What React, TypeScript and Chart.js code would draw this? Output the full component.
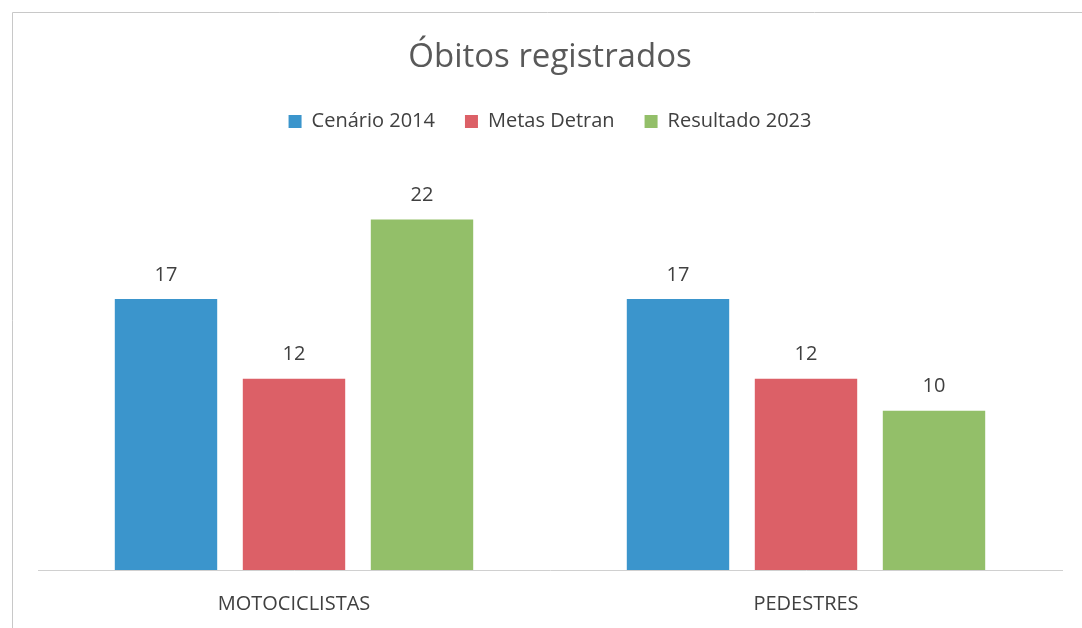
import React, { useEffect, useRef } from "react";
import { Chart, registerables } from "chart.js";

Chart.register(...registerables);

const categories = ["MOTOCICLISTAS", "PEDESTRES"];
const seriesNames = ["Cenário 2014", "Metas Detran", "Resultado 2023"];
const cenario2014 = [17, 17];
const metasDetran = [12, 12];
const resultado2023 = [22, 10];
const seriesColors = ["#3b95cc", "#dc6067", "#93bf69"];

const FONT = "'Open Sans', 'Noto Sans', sans-serif";

const valueLabels = {
  id: "valueLabels",
  afterDatasetsDraw(chart: any) {
    const ctx = chart.ctx;
    ctx.save();
    ctx.font = `20px ${FONT}`;
    ctx.fillStyle = "#404040";
    ctx.textAlign = "center";
    ctx.textBaseline = "bottom";
    chart.data.datasets.forEach((ds: any, i: number) => {
      const meta = chart.getDatasetMeta(i);
      meta.data.forEach((bar: any, j: number) => {
        ctx.fillText(String(ds.data[j]), bar.x, bar.y - 14);
      });
    });
    ctx.restore();
  },
};

const legendSpacer = {
  id: "legendSpacer",
  beforeInit(chart: any) {
    const legend = chart.legend;
    if (!legend) return;
    const orig = legend.fit;
    legend.fit = function () {
      orig.call(this);
      this.height += 30;
    };
  },
};

const frame = {
  id: "frame",
  beforeDraw(chart: any) {
    const ctx = chart.ctx;
    ctx.save();
    ctx.fillStyle = "#ffffff";
    ctx.fillRect(0, 0, chart.width, chart.height);
    ctx.strokeStyle = "#c8c8c8";
    ctx.lineWidth = 1;
    ctx.beginPath();
    ctx.moveTo(12.5, chart.height);
    ctx.lineTo(12.5, 12.5);
    ctx.lineTo(chart.width, 12.5);
    ctx.stroke();
    ctx.restore();
  },
};

export default function App() {
  const ref = useRef<HTMLCanvasElement>(null);
  useEffect(() => {
    if (!ref.current) return;
    const chart = new Chart(ref.current, {
      type: "bar",
      data: {
        labels: categories,
        datasets: [cenario2014, metasDetran, resultado2023].map((d, i) => ({
          label: seriesNames[i],
          data: d,
          backgroundColor: seriesColors[i],
          categoryPercentage: 0.75,
          barPercentage: 0.8,
        })),
      },
      options: {
        animation: false,
        responsive: false,
        maintainAspectRatio: false,
        layout: { padding: { left: 38, right: 20, top: 38, bottom: 12 } },
        plugins: {
          title: {
            display: true,
            text: "Óbitos registrados",
            color: "#595959",
            font: { family: FONT, size: 33, weight: "normal" },
            padding: { top: 0, bottom: 4 },
          },
          legend: {
            display: true,
            position: "top",
            labels: {
              color: "#404040",
              font: { family: FONT, size: 20 },
              boxWidth: 13,
              boxHeight: 13,
              padding: 30,
            },
          },
          tooltip: { enabled: false },
        },
        scales: {
          x: {
            grid: { display: false, drawTicks: false },
            border: { display: true, color: "#d0d0d0", width: 1 },
            ticks: {
              color: "#404040",
              font: { family: FONT, size: 20 },
              padding: 22,
            },
            afterFit: (scale: any) => {
              scale.height = 46;
            },
          },
          y: {
            display: false,
            min: 0,
            max: 25,
          },
        },
      },
      plugins: [frame, legendSpacer, valueLabels],
    });
    return () => chart.destroy();
  }, []);
  return (
    <div style={{ position: "fixed", left: 0, top: 0, width: 1082, height: 628 }}>
      <canvas ref={ref} width={1082} height={628} style={{ width: 1082, height: 628 }} />
    </div>
  );
}
